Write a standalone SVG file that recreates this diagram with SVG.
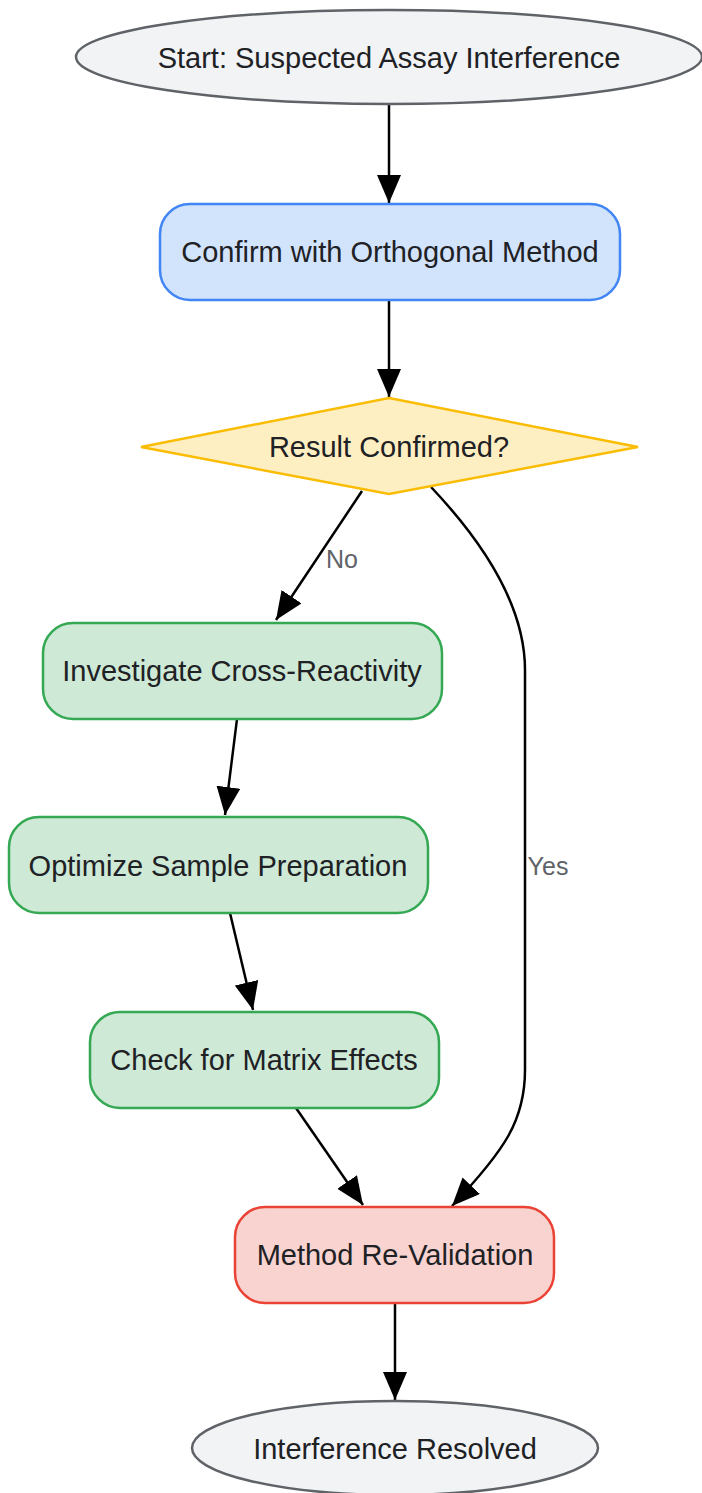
<svg xmlns="http://www.w3.org/2000/svg" width="702" height="1493" viewBox="0 0 702 1493">
<style>
text{font-family:"Liberation Sans",Arial,sans-serif;font-size:29px;fill:#202124;text-anchor:middle;dominant-baseline:central}
.term{fill:#f1f3f5;stroke:#5f6368;stroke-width:2.5}
.blue{fill:#d2e3fc;stroke:#4285f4;stroke-width:2.5}
.dec{fill:#feefc3;stroke:#fbbc04;stroke-width:2.5}
.green{fill:#cee9d6;stroke:#34a853;stroke-width:2.5}
.red{fill:#f8d3d0;stroke:#ea4335;stroke-width:2.5}
.edge{fill:none;stroke:#000;stroke-width:2.5;marker-end:url(#arr)}
.lbl{fill:#5f6368;font-size:25px}
</style>
<defs>
<marker id="arr" markerUnits="userSpaceOnUse" markerWidth="30" markerHeight="24" refX="28" refY="12" orient="auto">
<path d="M0,0 L28,12 L0,24 Z" fill="#000"/>
</marker>
</defs>
<g id="connectors">
<path class="edge" d="M389,104 L389,203"/>
<path class="edge" d="M389,300 L389,397"/>
<path class="edge" d="M362,491 L276,620"/>
<path class="edge" d="M431,487 C500,560 525,620 525,670 L525,1070 C525,1120 505,1150 452,1206"/>
<path class="edge" d="M237,719 L225,815"/>
<path class="edge" d="M230,913 L253,1010"/>
<path class="edge" d="M296,1108 L363,1205"/>
<path class="edge" d="M395,1303 L395,1400"/>
<text class="lbl" x="342" y="559">No</text>
<text class="lbl" x="548" y="866">Yes</text>
</g>
<g id="start">
<ellipse class="term" cx="389" cy="57" rx="313" ry="47"/>
<text x="389" y="58">Start: Suspected Assay Interference</text>
</g>
<g id="confirm">
<rect class="blue" x="160" y="204" width="460" height="96" rx="30"/>
<text x="390" y="252">Confirm with Orthogonal Method</text>
</g>
<g id="decision">
<polygon class="dec" points="389,398 638,447 389,494 141,447"/>
<text x="389" y="447">Result Confirmed?</text>
</g>
<g id="investigate">
<rect class="green" x="43" y="623" width="399" height="96" rx="30"/>
<text x="242" y="671">Investigate Cross-Reactivity</text>
</g>
<g id="optimize">
<rect class="green" x="9" y="817" width="419" height="96" rx="30"/>
<text x="218" y="866">Optimize Sample Preparation</text>
</g>
<g id="matrix">
<rect class="green" x="90" y="1012" width="349" height="96" rx="30"/>
<text x="264" y="1060">Check for Matrix Effects</text>
</g>
<g id="revalidation">
<rect class="red" x="235" y="1207" width="319" height="96" rx="30"/>
<text x="395" y="1255">Method Re-Validation</text>
</g>
<g id="end">
<ellipse class="term" cx="395" cy="1448" rx="203" ry="47"/>
<text x="395" y="1449">Interference Resolved</text>
</g>
</svg>
